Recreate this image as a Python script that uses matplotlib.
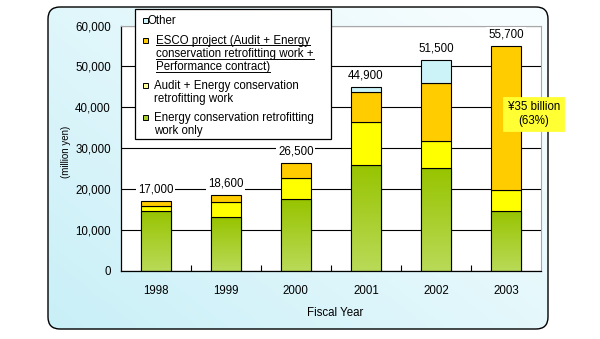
import numpy as np
import matplotlib
matplotlib.use("Agg")
import matplotlib.pyplot as plt
from matplotlib.patches import FancyBboxPatch, Rectangle
from matplotlib.ticker import FuncFormatter, FixedLocator

plt.rcParams['font.family'] = ['Liberation Sans', 'DejaVu Sans']

# ---------------- data ----------------
years = ['1998', '1999', '2000', '2001', '2002', '2003']
energy_only = [14700, 13100, 17500, 26000, 25100, 14700]
audit_energy = [1300, 3700, 5200, 10400, 6600, 5000]
esco = [1000, 1800, 3800, 7300, 14200, 35300]
other = [0, 0, 0, 1200, 5600, 0]
totals = [17000, 18600, 26500, 44900, 51500, 55700]
total_labels = ['17,000', '18,600', '26,500', '44,900', '51,500', '55,700']
yticks = [0, 10000, 20000, 30000, 40000, 50000, 60000]

label_other = 'Other'
label_esco = 'ESCO project (Audit + Energy\nconservation retrofitting work +\nPerformance contract)'
label_audit = 'Audit + Energy conservation\nretrofitting work'
label_energy = 'Energy conservation retrofitting\nwork only'
callout_text = '¥35 billion\n(63%)'

c_other = '#ccf4f8'
c_esco = '#ffcc00'
c_audit = '#ffff00'
c_green_top = '#97c400'
c_green_bot = '#b9da58'
c_green = '#a6cf2a'

W, H = 600, 339
fig = plt.figure(figsize=(6, 3.39), dpi=100, facecolor='white')

# ---------------- background rounded panel ----------------
bg = fig.add_axes([0, 0, 1, 1], zorder=-5)
bg.set_xlim(0, W)
bg.set_ylim(H, 0)
bg.axis('off')
bx0, by0, bw, bh = 48, 7, 500, 322
panel = FancyBboxPatch((bx0, by0), bw, bh, boxstyle='round,pad=0,rounding_size=12',
                       fc='none', ec='black', lw=1.0, transform=bg.transData, zorder=2)
gy, gx = np.mgrid[0:1:200j, 0:1:300j]
t = np.clip(0.55 * gx + 0.45 * (1 - gy) + 0.1, 0, 1)
c1 = np.array([0xc4, 0xee, 0xf7]) / 255
c2 = np.array([0xf6, 0xfd, 0xfe]) / 255
grad = c1[None, None, :] * (1 - t[..., None]) + c2[None, None, :] * t[..., None]
im = bg.imshow(grad, extent=(bx0, bx0 + bw, by0 + bh, by0), origin='upper',
               aspect='auto', zorder=1)
bg.add_patch(panel)
im.set_clip_path(panel)

# ---------------- main axes ----------------
ax = fig.add_axes([0.2012, 0.2006, 0.7005, 0.7239], zorder=1)
ax.set_facecolor('white')
x = np.arange(len(years))
bw_ = 0.43
ekw = dict(edgecolor='black', linewidth=0.8)

green_bars = ax.bar(x, energy_only, bw_, color=c_green, zorder=2, **ekw)
gtex = np.linspace(0, 1, 100)[:, None]
ct = np.array(matplotlib.colors.to_rgb(c_green_top))
cb = np.array(matplotlib.colors.to_rgb(c_green_bot))
gimg = ct[None, None, :] * (1 - gtex[..., None]) + cb[None, None, :] * gtex[..., None]
gimg = np.repeat(gimg, 2, axis=1)
for b in green_bars:
    bb = b.get_bbox()
    gi = ax.imshow(gimg, extent=(bb.x0, bb.x1, bb.y0, bb.y1), origin='upper',
                   aspect='auto', zorder=2.2)
    gi.set_clip_path(b)
ax.bar(x, energy_only, bw_, fill=False, zorder=3, **ekw)
b1 = np.array(energy_only)
ax.bar(x, audit_energy, bw_, bottom=b1, color=c_audit, zorder=3, **ekw)
b2 = b1 + np.array(audit_energy)
ax.bar(x, esco, bw_, bottom=b2, color=c_esco, zorder=3, **ekw)
b3 = b2 + np.array(esco)
other_arr = np.array(other)
mask = other_arr > 0
ax.bar(x[mask], other_arr[mask], bw_, bottom=b3[mask], color=c_other, zorder=3, **ekw)
tops = b3 + other_arr

for xi, top, lab in zip(x, tops, total_labels):
    ax.annotate(lab, (xi, top), xytext=(0, 4), textcoords='offset points',
                ha='center', va='bottom', fontsize=8.3, zorder=5,
                bbox=dict(boxstyle='square,pad=0.15', fc='white', ec='none'))

ax.set_xlim(-0.5, len(years) - 0.5)
ax.set_ylim(0, 60000)
ax.set_yticks(yticks)
ax.yaxis.set_major_formatter(FuncFormatter(lambda v, p: f'{int(v):,}'))
ax.set_xticks(x)
ax.set_xticklabels(years)
ax.xaxis.set_minor_locator(FixedLocator(list(np.arange(len(years) - 1) + 0.5)))
ax.tick_params(axis='y', length=0, pad=7, labelsize=8.3)
ax.tick_params(axis='x', which='major', length=0, pad=10, labelsize=8.3)
ax.tick_params(axis='x', which='minor', direction='in', length=4, width=0.8, color='black')
ax.yaxis.grid(True, color='black', linewidth=0.8)
ax.set_axisbelow(True)
for s in ['left', 'bottom']:
    ax.spines[s].set_color('black')
    ax.spines[s].set_linewidth(0.9)
for s in ['top', 'right']:
    ax.spines[s].set_color('#a8a8a8')
    ax.spines[s].set_linewidth(0.8)

ax.set_ylabel('(million yen)', fontsize=7)
ax.yaxis.set_label_coords(-0.118, 0.487)
ax.set_xlabel('Fiscal Year', fontsize=8.3)
ax.xaxis.set_label_coords(0.51, -0.145)

ax.text(0.983, 0.64, callout_text, transform=ax.transAxes, ha='center', va='center',
        fontsize=8.3, linespacing=1.15, zorder=6, clip_on=False,
        bbox=dict(boxstyle='square,pad=0.3', fc='#ffff33', ec='#ffff33', lw=2))

# ---------------- legend (overlay) ----------------
ov = fig.add_axes([0, 0, 1, 1], zorder=10)
ov.set_xlim(0, W)
ov.set_ylim(H, 0)
ov.axis('off')
ov.patch.set_alpha(0)
ov.add_patch(Rectangle((135, 9), 196, 130, fc='white', ec='black', lw=0.9))

entries = [
    (label_other, c_other, 20.7, 148, False),
    (label_esco, c_esco, 40.7, 156, True),
    (label_audit, '#ffff99', 85.7, 154, False),
    (label_energy, c_green, 117.7, 154, False),
]
line_h = 13.3
ul_texts = []
for lab, col, y0, tx, ul in entries:
    ov.add_patch(Rectangle((142.5, y0 - 2.8), 5, 5, fc=col, ec='black', lw=0.7))
    for i, line in enumerate(lab.split('\n')):
        tt = ov.text(tx, y0 + i * line_h, line, ha='left', va='center', fontsize=8.3)
        if ul:
            ul_texts.append(tt)

fig.canvas.draw()
r = fig.canvas.get_renderer()
inv = ov.transData.inverted()
for tt in ul_texts:
    e = tt.get_window_extent(r)
    (xa, ya) = inv.transform((e.x0, e.y0 + 1.5))
    (xb, _) = inv.transform((e.x1, e.y0 + 1.5))
    ov.plot([xa, xb], [ya, ya], color='black', lw=0.7)

fig.savefig('out.png', dpi=100, facecolor='white')
